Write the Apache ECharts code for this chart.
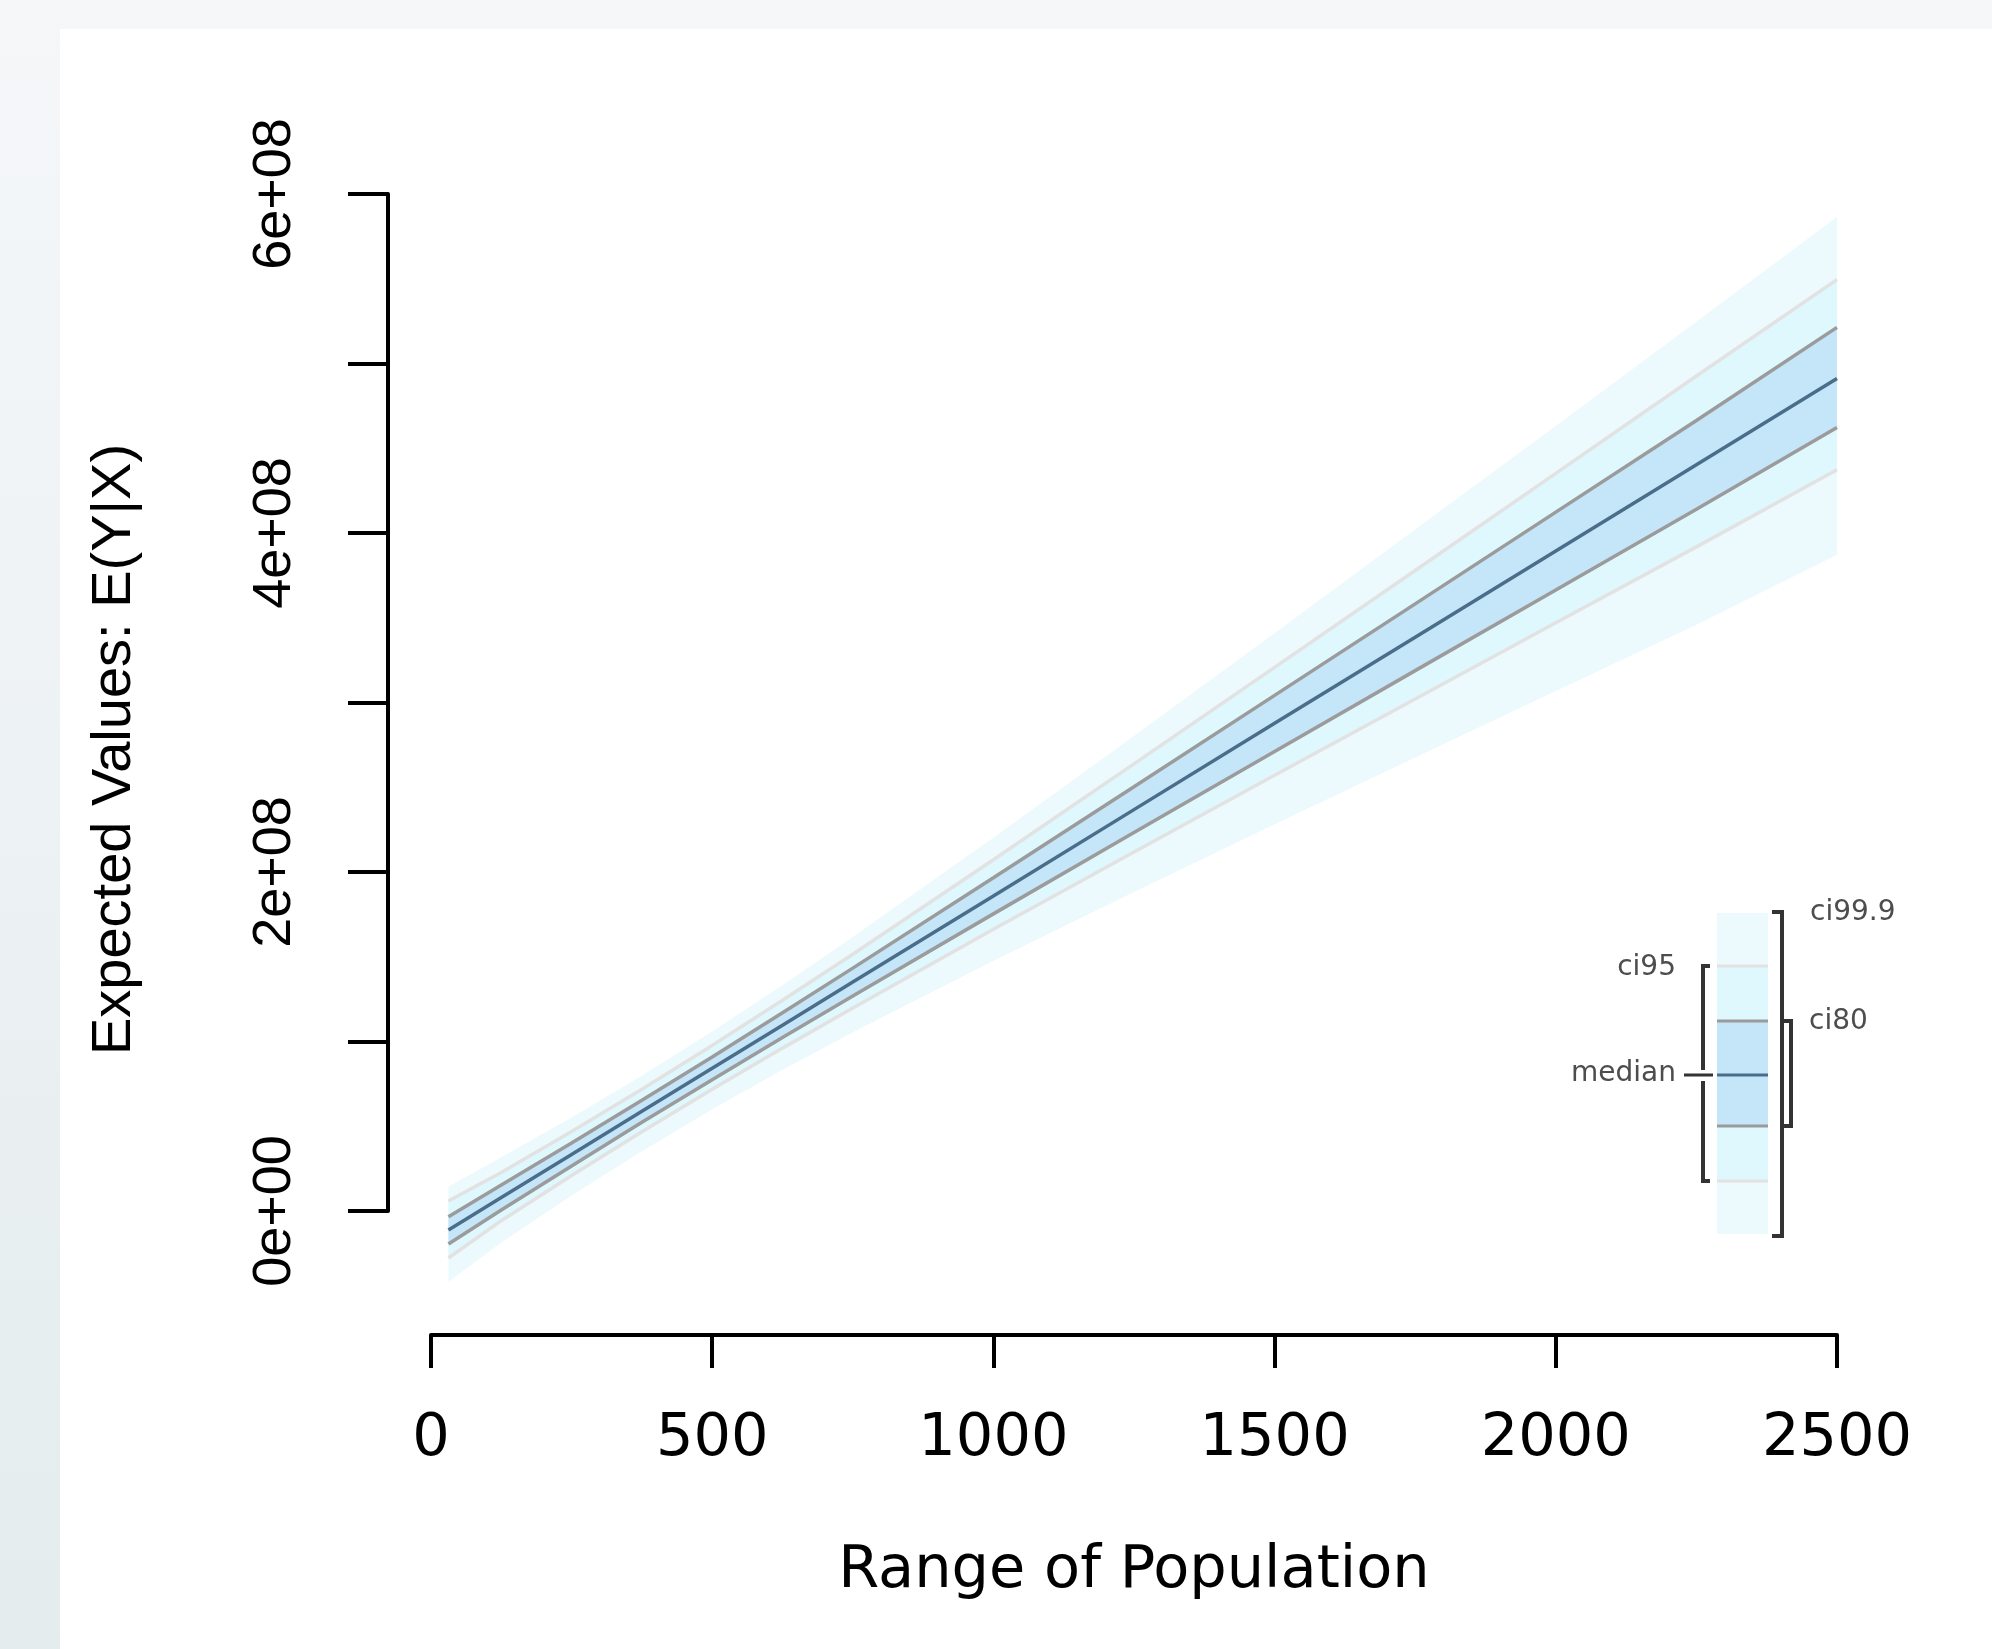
<!DOCTYPE html>
<html lang="en">
<head>
    <meta charset="UTF-8">
    <title>Expected Values: E(Y|X)</title>
    <script src="https://cdn.jsdelivr.net/npm/echarts@6/dist/echarts.min.js"></script>
    <style>
        html, body { margin: 0; padding: 0; }
        body {
            width: 1992px; height: 1649px; overflow: hidden;
            background: linear-gradient(to bottom, #f5f7f9, #e4ecee);
        }
        #main {
            position: absolute; left: 60px; top: 29px;
            width: 1932px; height: 1620px; background: #ffffff;
        }
    </style>
</head>
<body>
<div id="main"></div>
<script>
    // population values where the simulated quantities were read off
    var population = [31, 125, 250, 375, 500, 625, 750, 1000, 1250, 1500, 1750, 2000, 2250, 2500];

    // expected values (median and interval bounds)
    var median     = [-0.112e8, 0.079e8, 0.334e8, 0.588e8, 0.842e8, 1.096e8, 1.351e8, 1.859e8, 2.368e8, 2.877e8, 3.385e8, 3.894e8, 4.402e8, 4.911e8];
    var ci80Upper  = [-0.034e8, 0.153e8, 0.401e8, 0.653e8, 0.909e8, 1.170e8, 1.433e8, 1.966e8, 2.503e8, 3.042e8, 3.582e8, 4.123e8, 4.664e8, 5.213e8];
    var ci80Lower  = [-0.195e8, 0.006e8, 0.266e8, 0.523e8, 0.775e8, 1.023e8, 1.268e8, 1.753e8, 2.233e8, 2.711e8, 3.188e8, 3.664e8, 4.140e8, 4.623e8];
    var ci95Upper  = [0.059e8, 0.227e8, 0.469e8, 0.718e8, 0.977e8, 1.243e8, 1.515e8, 2.072e8, 2.638e8, 3.207e8, 3.779e8, 4.352e8, 4.926e8, 5.495e8];
    var ci95Lower  = [-0.277e8, -0.057e8, 0.209e8, 0.467e8, 0.718e8, 0.961e8, 1.198e8, 1.662e8, 2.118e8, 2.571e8, 3.021e8, 3.470e8, 3.918e8, 4.373e8];
    var ci999Upper = [0.143e8, 0.317e8, 0.551e8, 0.798e8, 1.059e8, 1.332e8, 1.616e8, 2.202e8, 2.802e8, 3.409e8, 4.020e8, 4.632e8, 5.246e8, 5.865e8];
    var ci999Lower = [-0.417e8, -0.186e8, 0.091e8, 0.353e8, 0.600e8, 0.833e8, 1.054e8, 1.476e8, 1.882e8, 2.281e8, 2.676e8, 3.068e8, 3.459e8, 3.872e8];

    // tick labels
    var xTickLabels = ['0', '500', '1000', '1500', '2000', '2500'];
    var yTickLabels = ['0e+00', '', '2e+08', '', '4e+08', '', '6e+08'];

    var colOuter = '#ecf9fd';
    var col95 = '#def8fe';
    var col80 = '#c5e5f8';
    var colMedian = '#4a6e8a';
    var line80 = '#9b9b9b';
    var line95 = '#e2e2e2';

    var chart = echarts.init(document.getElementById('main'));

    // filled band between two bounds, one polygon per band
    function bandSeries(upper, lower, color, z) {
        return {
            type: 'custom',
            coordinateSystem: 'cartesian2d',
            data: population.map(function (p, i) { return [p, upper[i], lower[i]]; }),
            encode: { x: 0, y: [1, 2] },
            clip: false,
            silent: true,
            z: z,
            renderItem: function (params, api) {
                if (params.dataIndex !== 0) return null;
                var pts = [];
                for (var i = 0; i < population.length; i++) {
                    pts.push(api.coord([population[i], upper[i]]));
                }
                for (var j = population.length - 1; j >= 0; j--) {
                    pts.push(api.coord([population[j], lower[j]]));
                }
                return { type: 'polygon', shape: { points: pts }, style: { fill: color } };
            }
        };
    }

    function lineSeries(vals, color) {
        return {
            type: 'line',
            data: population.map(function (p, i) { return [p, vals[i]]; }),
            symbol: 'none',
            clip: false,
            silent: true,
            z: 5,
            lineStyle: { color: color, width: 3.5 }
        };
    }

    // legend inset (R ci.plot style)
    var lx = 1657, lw = 51;
    var legend = [
        { type: 'rect', shape: { x: lx, y: 884, width: lw, height: 53 }, style: { fill: colOuter } },
        { type: 'rect', shape: { x: lx, y: 937, width: lw, height: 55 }, style: { fill: col95 } },
        { type: 'rect', shape: { x: lx, y: 992, width: lw, height: 105 }, style: { fill: col80 } },
        { type: 'rect', shape: { x: lx, y: 1097, width: lw, height: 55 }, style: { fill: col95 } },
        { type: 'rect', shape: { x: lx, y: 1152, width: lw, height: 53 }, style: { fill: colOuter } },
        { type: 'line', shape: { x1: lx, y1: 937, x2: lx + lw, y2: 937 }, style: { stroke: line95, lineWidth: 3 } },
        { type: 'line', shape: { x1: lx, y1: 992, x2: lx + lw, y2: 992 }, style: { stroke: line80, lineWidth: 3 } },
        { type: 'line', shape: { x1: lx, y1: 1046, x2: lx + lw, y2: 1046 }, style: { stroke: colMedian, lineWidth: 3 } },
        { type: 'line', shape: { x1: lx, y1: 1097, x2: lx + lw, y2: 1097 }, style: { stroke: line80, lineWidth: 3 } },
        { type: 'line', shape: { x1: lx, y1: 1152, x2: lx + lw, y2: 1152 }, style: { stroke: line95, lineWidth: 3 } },
        // brackets
        { type: 'polyline', shape: { points: [[1712, 883], [1722, 883], [1722, 1207], [1712, 1207]] }, style: { stroke: '#333', lineWidth: 4, fill: null } },
        { type: 'polyline', shape: { points: [[1722, 992], [1731, 992], [1731, 1097], [1722, 1097]] }, style: { stroke: '#333', lineWidth: 4, fill: null } },
        { type: 'polyline', shape: { points: [[1650, 937], [1643, 937], [1643, 1041]] }, style: { stroke: '#333', lineWidth: 4, fill: null } },
        { type: 'polyline', shape: { points: [[1643, 1052], [1643, 1152], [1650, 1152]] }, style: { stroke: '#333', lineWidth: 4, fill: null } },
        { type: 'line', shape: { x1: 1624, y1: 1046, x2: 1653, y2: 1046 }, style: { stroke: '#333', lineWidth: 3 } },
        // labels
        { type: 'text', x: 1750, y: 884, style: { text: 'ci99.9', fontSize: 28, fontFamily: 'DejaVu Sans', fill: '#4d4d4d', align: 'left', verticalAlign: 'middle' } },
        { type: 'text', x: 1749, y: 993, style: { text: 'ci80', fontSize: 28, fontFamily: 'DejaVu Sans', fill: '#4d4d4d', align: 'left', verticalAlign: 'middle' } },
        { type: 'text', x: 1616, y: 939, style: { text: 'ci95', fontSize: 28, fontFamily: 'DejaVu Sans', fill: '#4d4d4d', align: 'right', verticalAlign: 'middle' } },
        { type: 'text', x: 1616, y: 1045, style: { text: 'median', fontSize: 28, fontFamily: 'DejaVu Sans', fill: '#4d4d4d', align: 'right', verticalAlign: 'middle' } }
    ];

    var option = {
        animation: false,
        backgroundColor: '#ffffff',
        grid: { left: 371, right: 155, top: 165, bottom: 438 },
        xAxis: {
            type: 'value',
            min: 0,
            max: 2500,
            interval: 500,
            offset: 124,
            axisLine: { show: true, onZero: false, lineStyle: { color: '#000', width: 4 } },
            axisTick: { show: true, length: 33, lineStyle: { color: '#000', width: 4 } },
            axisLabel: {
                margin: 75, fontSize: 59, fontFamily: 'DejaVu Sans', color: '#000',
                formatter: function (v) { return xTickLabels[Math.round(v / 500)]; }
            },
            splitLine: { show: false },
            name: 'Range of Population',
            nameLocation: 'middle',
            nameGap: 207,
            nameTextStyle: { fontSize: 59, fontFamily: 'DejaVu Sans', color: '#000' }
        },
        yAxis: {
            type: 'value',
            min: 0,
            max: 6e8,
            interval: 1e8,
            offset: 43,
            axisLine: { show: true, onZero: false, lineStyle: { color: '#000', width: 4 } },
            axisTick: { show: true, length: 40, lineStyle: { color: '#000', width: 4 } },
            axisLabel: {
                rotate: 90, margin: 86, fontSize: 54, fontFamily: 'Liberation Sans', color: '#000',
                formatter: function (v) { return yTickLabels[Math.round(v / 1e8)]; }
            },
            splitLine: { show: false },
            name: 'Expected Values: E(Y|X)',
            nameLocation: 'middle',
            nameRotate: 90,
            nameGap: 245,
            nameTextStyle: { fontSize: 56, fontFamily: 'Liberation Sans', color: '#000', padding: [0, 94, 0, 0] }
        },
        series: [
            bandSeries(ci999Upper, ci999Lower, colOuter, 1),
            bandSeries(ci95Upper, ci95Lower, col95, 2),
            bandSeries(ci80Upper, ci80Lower, col80, 3),
            lineSeries(ci95Upper, line95),
            lineSeries(ci95Lower, line95),
            lineSeries(ci80Upper, line80),
            lineSeries(ci80Lower, line80),
            lineSeries(median, colMedian)
        ],
        graphic: legend
    };

    chart.setOption(option);
</script>
</body>
</html>
